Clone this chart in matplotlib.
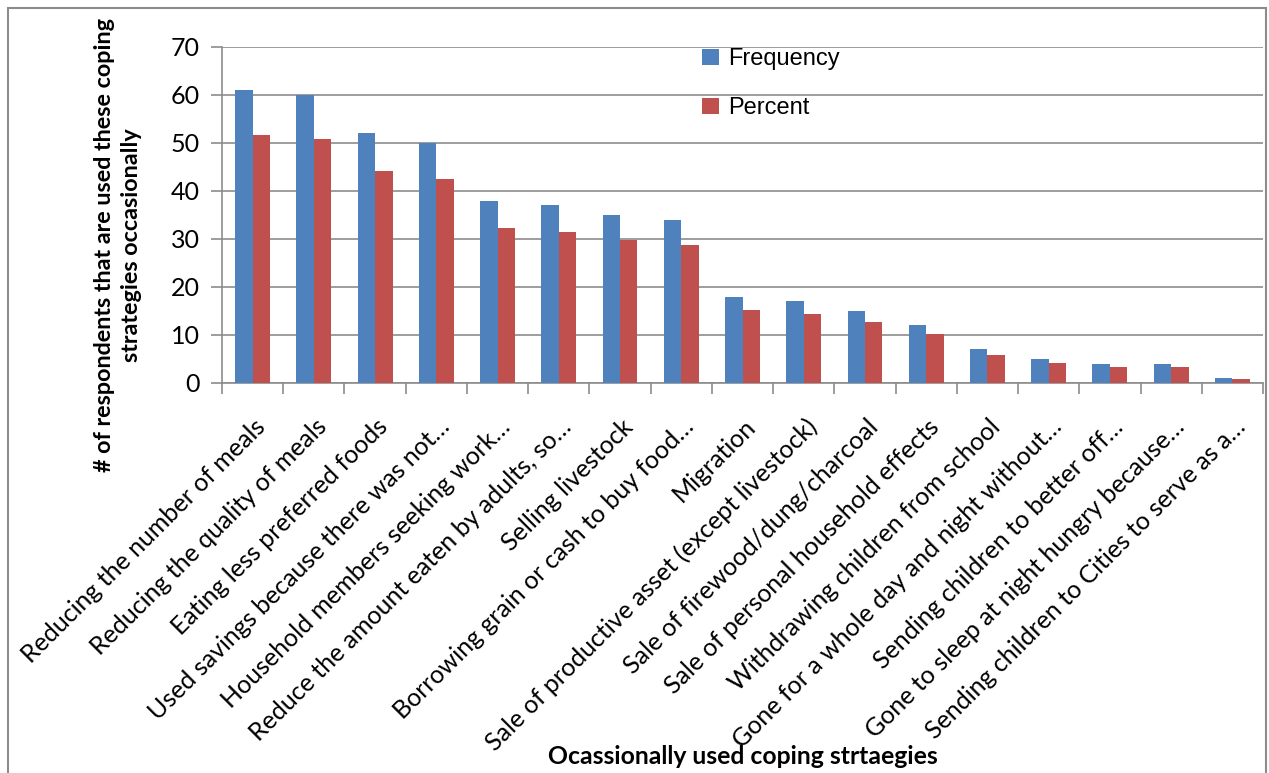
import numpy as np
import matplotlib
matplotlib.use("Agg")
import matplotlib.pyplot as plt
from matplotlib.patches import Rectangle
from matplotlib.transforms import ScaledTranslation

strategies = [
    "Reducing the number of meals",
    "Reducing the quality of meals",
    "Eating less preferred foods",
    "Used savings because there was not…",
    "Household members seeking work…",
    "Reduce the amount eaten by adults, so…",
    "Selling livestock",
    "Borrowing grain or cash to buy food…",
    "Migration",
    "Sale of productive asset (except livestock)",
    "Sale of firewood/dung/charcoal",
    "Sale of personal household effects",
    "Withdrawing children from school",
    "Gone for a whole day and night without…",
    "Sending children to better off…",
    "Gone to sleep at night hungry because…",
    "Sending children to Cities to serve as a…",
]
frequency = [61, 60, 52, 50, 38, 37, 35, 34, 18, 17, 15, 12, 7, 5, 4, 4, 1]
percent = [51.7, 50.8, 44.1, 42.4, 32.2, 31.4, 29.7, 28.8, 15.3, 14.4, 12.7,
           10.2, 5.9, 4.2, 3.4, 3.4, 0.8]

BLUE = "#4F81BD"
RED = "#C0504D"
GRID = "#8C8C8C"
LABEL_FONT = ["Lato", "DejaVu Sans"]
LEGEND_FONT = ["Liberation Sans Narrow", "Liberation Sans", "DejaVu Sans"]

W, H = 1269, 773
fig = plt.figure(figsize=(W / 100, H / 100), dpi=100)
ax = fig.add_axes([222 / W, 1 - 383 / H, (1263 - 222) / W, (383 - 47) / H])

x = np.arange(len(strategies))
bw = 0.285
ax.bar(x - bw / 2, frequency, bw, color=BLUE, label="Frequency", zorder=3)
ax.bar(x + bw / 2, percent, bw, color=RED, label="Percent", zorder=3)

ax.set_xlim(-0.5, len(strategies) - 0.5)
ax.set_ylim(0, 70)
ax.set_yticks(range(0, 71, 10))
ax.yaxis.grid(True, color=GRID, linewidth=1.2, zorder=0)
ax.tick_params(axis="y", length=8, width=1.2, color=GRID, pad=8, labelsize=18)
for lbl in ax.get_yticklabels():
    lbl.set_family(LABEL_FONT)

# category ticks sit on the boundaries, labels on the centres
ax.set_xticks(np.arange(-0.5, len(strategies), 1.0))
ax.set_xticklabels([])
ax.tick_params(axis="x", length=8, width=1.2, color=GRID)
ax.set_xticks(x, minor=True)
ax.set_xticklabels(strategies, minor=True, rotation=45, ha="right",
                   rotation_mode="anchor", fontsize=18, family=LABEL_FONT)
ax.tick_params(axis="x", which="minor", length=0, pad=23)
shift = ScaledTranslation(1 / 100, 0, fig.dpi_scale_trans)
for lbl in ax.get_xticklabels(minor=True):
    lbl.set_transform(lbl.get_transform() + shift)

for side in ["top", "right"]:
    ax.spines[side].set_visible(False)
for side in ["left", "bottom"]:
    ax.spines[side].set_color(GRID)
    ax.spines[side].set_linewidth(1.2)

ax.legend(loc="upper left", bbox_to_anchor=(0.441, 1.06), frameon=False,
          handlelength=0.7, handleheight=0.7, handletextpad=0.4,
          labelspacing=1.15, prop={"family": LEGEND_FONT, "size": 17})

fig.text(118 / W, 1 - 245 / H,
         "# of respondents that are used these coping\nstrategies occasionally",
         rotation=90, ha="center", va="center", fontsize=16.8, fontweight="bold",
         family=LABEL_FONT, linespacing=1.3)
fig.text(743 / W, 1 - 756 / H, "Ocassionally used coping strtaegies",
         ha="center", va="center", fontsize=17.8, fontweight="bold",
         family=LABEL_FONT)

# outer chart frame
fig.patches.append(Rectangle((8 / W, -0.01), (1266 - 8) / W, 1 - 8 / H + 0.01,
                             transform=fig.transFigure, fill=False,
                             edgecolor=GRID, linewidth=1.5))

fig.savefig("out.png", dpi=100)
